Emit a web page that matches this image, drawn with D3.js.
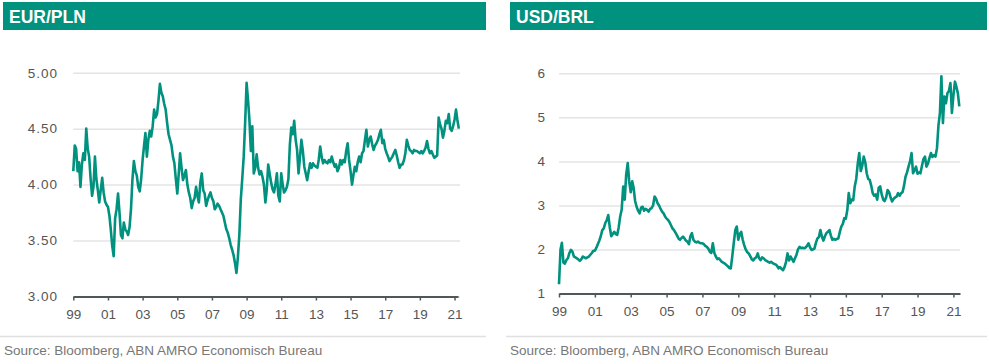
<!DOCTYPE html>
<html>
<head>
<meta charset="utf-8">
<script src="https://cdn.jsdelivr.net/npm/d3@7"></script>
<style>
  body { margin: 0; background: #fff; }
  svg { display: block; font-family: 'Liberation Sans', Arial, sans-serif; }
</style>
</head>
<body>
<svg id="mainsvg" width="989" height="364"></svg>
<script>
// monthly values, starting Jan 1999
const plnStart = '1999-01';
const plnValues = [
  4.12, 4.35, 4.32, 4.12, 4.20, 3.98, 4.18, 4.28, 4.22, 4.50, 4.32, 4.25, // 1999
  4.05, 3.90, 3.98, 4.25, 4.05, 3.95, 3.84, 3.95, 4.06, 3.93, 3.85, 3.82, // 2000
  3.80, 3.72, 3.60, 3.45, 3.36, 3.70, 3.78, 3.92, 3.75, 3.55, 3.52, 3.66, // 2001
  3.60, 3.58, 3.55, 3.62, 3.78, 4.05, 4.21, 4.12, 4.08, 3.98, 3.94, 4.05, // 2002
  4.22, 4.35, 4.46, 4.25, 4.40, 4.48, 4.43, 4.52, 4.67, 4.60, 4.63, 4.75, // 2003
  4.90, 4.82, 4.79, 4.72, 4.67, 4.55, 4.45, 4.40, 4.35, 4.25, 4.19, 4.05, // 2004
  3.92, 4.10, 4.28, 4.15, 4.04, 4.08, 4.13, 4.00, 3.93, 3.88, 3.79, 3.85, // 2005
  3.88, 3.98, 3.90, 3.84, 4.02, 4.10, 3.95, 3.92, 3.81, 3.86, 3.90, 3.93, // 2006
  3.88, 3.85, 3.78, 3.80, 3.83, 3.81, 3.78, 3.75, 3.72, 3.66, 3.60, 3.57, // 2007
  3.52, 3.46, 3.42, 3.37, 3.30, 3.21, 3.35, 3.55, 3.87, 4.05, 4.25, 4.55, // 2008
  4.91, 4.75, 4.58, 4.30, 4.52, 4.10, 4.15, 4.27, 4.15, 4.09, 4.12, 4.07, // 2009
  4.00, 3.84, 3.95, 4.18, 4.10, 4.02, 3.96, 3.93, 4.00, 4.10, 3.90, 3.85, // 2010
  4.10, 4.00, 3.93, 3.95, 3.98, 4.05, 4.35, 4.51, 4.45, 4.57, 4.40, 4.31, // 2011
  4.10, 4.25, 4.40, 4.30, 4.16, 4.10, 4.04, 4.12, 4.19, 4.15, 4.19, 4.17, // 2012
  4.16, 4.15, 4.22, 4.34, 4.25, 4.19, 4.22, 4.20, 4.19, 4.22, 4.20, 4.25, // 2013
  4.20, 4.16, 4.18, 4.12, 4.15, 4.22, 4.18, 4.22, 4.20, 4.30, 4.37, 4.22, // 2014
  4.12, 4.00, 4.08, 4.16, 4.12, 4.20, 4.25, 4.20, 4.28, 4.30, 4.40, 4.49, // 2015
  4.34, 4.40, 4.43, 4.36, 4.31, 4.35, 4.37, 4.40, 4.45, 4.49, 4.37, 4.40, // 2016
  4.32, 4.28, 4.25, 4.21, 4.23, 4.25, 4.28, 4.31, 4.26, 4.20, 4.15, 4.18, // 2017
  4.18, 4.22, 4.28, 4.40, 4.35, 4.31, 4.30, 4.28, 4.31, 4.30, 4.30, 4.29, // 2018
  4.28, 4.30, 4.28, 4.30, 4.33, 4.39, 4.32, 4.28, 4.30, 4.27, 4.24, 4.25, // 2019
  4.26, 4.60, 4.54, 4.50, 4.42, 4.48, 4.57, 4.55, 4.63, 4.50, 4.48, 4.52, // 2020
  4.58, 4.67, 4.58, 4.50                                                  // 2021
];

const brlStart = '1999-01';
const brlValues = [
  1.21, 2.00, 2.15, 1.70, 1.68, 1.76, 1.80, 1.92, 1.99, 1.95, 1.84, 1.82, // 1999
  1.80, 1.77, 1.74, 1.78, 1.84, 1.82, 1.80, 1.82, 1.84, 1.88, 1.92, 1.97, // 2000
  1.97, 2.04, 2.12, 2.20, 2.30, 2.44, 2.48, 2.60, 2.67, 2.78, 2.50, 2.30, // 2001
  2.35, 2.40, 2.35, 2.33, 2.50, 2.75, 2.90, 3.43, 3.13, 3.70, 3.96, 3.55, // 2002
  3.30, 3.55, 3.40, 3.10, 2.97, 2.88, 2.82, 2.95, 2.97, 2.88, 2.92, 2.90, // 2003
  2.86, 2.92, 2.94, 3.00, 3.20, 3.15, 3.05, 3.00, 2.92, 2.86, 2.82, 2.75, // 2004
  2.70, 2.67, 2.62, 2.55, 2.48, 2.44, 2.38, 2.32, 2.25, 2.22, 2.26, 2.29, // 2005
  2.25, 2.20, 2.18, 2.12, 2.30, 2.37, 2.22, 2.18, 2.16, 2.18, 2.15, 2.14, // 2006
  2.14, 2.12, 2.08, 2.06, 2.02, 1.95, 1.92, 2.14, 1.92, 1.84, 1.78, 1.80, // 2007
  1.76, 1.72, 1.70, 1.68, 1.65, 1.62, 1.58, 1.57, 1.85, 2.15, 2.44, 2.52, // 2008
  2.22, 2.35, 2.40, 2.22, 2.10, 2.00, 1.94, 1.91, 1.85, 1.78, 1.75, 1.80, // 2009
  1.82, 1.91, 1.80, 1.76, 1.82, 1.80, 1.76, 1.74, 1.72, 1.70, 1.72, 1.69, // 2010
  1.67, 1.66, 1.63, 1.57, 1.60, 1.56, 1.53, 1.60, 1.72, 1.91, 1.75, 1.84, // 2011
  1.78, 1.72, 1.80, 1.88, 2.00, 2.06, 2.03, 2.04, 2.03, 2.04, 2.08, 2.14, // 2012
  2.05, 1.99, 2.00, 2.02, 2.15, 2.25, 2.28, 2.44, 2.29, 2.20, 2.30, 2.37, // 2013
  2.40, 2.44, 2.32, 2.22, 2.24, 2.22, 2.24, 2.25, 2.40, 2.52, 2.58, 2.71, // 2014
  2.70, 2.90, 3.28, 3.05, 3.13, 3.12, 3.43, 3.60, 3.95, 4.19, 3.78, 3.90, // 2015
  4.11, 3.98, 3.73, 3.60, 3.58, 3.45, 3.28, 3.22, 3.25, 3.13, 3.40, 3.43, // 2016
  3.25, 3.13, 3.10, 3.18, 3.35, 3.30, 3.18, 3.09, 3.15, 3.18, 3.20, 3.28, // 2017
  3.22, 3.28, 3.30, 3.45, 3.65, 3.75, 3.88, 4.00, 4.19, 3.73, 3.80, 3.88, // 2018
  3.72, 3.75, 3.73, 3.90, 4.05, 4.11, 3.88, 3.95, 4.08, 4.19, 4.10, 4.14, // 2019
  4.11, 4.30, 4.80, 5.10, 5.93, 4.87, 5.47, 5.32, 5.55, 5.60, 5.78, 5.10, // 2020
  5.50, 5.81, 5.70, 5.55, 5.25                                            // 2021
];

const plnTicks = [3, 3.5, 4, 4.5, 5];
const brlTicks = [1, 2, 3, 4, 5, 6];
const yearTicks = ['1999', '2001', '2003', '2005', '2007', '2009', '2011', '2013', '2015', '2017', '2019', '2021'];
const source = 'Source: Bloomberg, ABN AMRO Economisch Bureau';

const teal = '#00917f';
const parseMonth = d3.timeParse('%Y-%m');
const parseYear = d3.timeParse('%Y');

const svg = d3.select('#mainsvg');

const drawPanel = p => {
  const g = svg.append('g');

  g.append('rect')
    .attr('x', p.barX0).attr('y', 2)
    .attr('width', p.barX1 - p.barX0).attr('height', 28)
    .attr('fill', teal);
  g.append('text').text(p.title)
    .attr('x', p.barX0 + 6).attr('y', 22.5)
    .attr('fill', '#fff')
    .attr('font-weight', 'bold')
    .attr('font-size', 17.5);

  const start = parseMonth(p.start);
  const data = p.values.map((v, i) => ({ date: d3.timeMonth.offset(start, i), value: v }));

  const xScale = d3.scaleTime()
    .domain([parseYear('1999'), p.xEnd])
    .range([p.left, p.right]);
  const yScale = d3.scaleLinear()
    .domain(p.yDomain)
    .range([p.bottom, p.top]);

  // gridlines + y labels
  const yAxis = d3.axisLeft(yScale)
    .tickValues(p.yTicks)
    .tickFormat(d3.format(p.yFormat))
    .tickSize(-(p.gridRight - p.left))
    .tickPadding(p.left - p.labelX);
  const yg = g.append('g')
    .attr('transform', `translate(${p.left}, 0)`)
    .call(yAxis);
  yg.select('.domain').remove();
  yg.selectAll('.tick line')
    .attr('stroke', '#e4e4e4')
    .attr('stroke-width', 1.5);
  yg.selectAll('.tick text')
    .attr('fill', '#555')
    .attr('font-size', 13.5)
    .attr('font-family', null)
    .style('letter-spacing', p.letterSpacing);

  // x axis
  const xAxis = d3.axisBottom(xScale)
    .tickValues(yearTicks.map(parseYear))
    .tickFormat(d3.timeFormat('%y'))
    .tickSizeInner(4)
    .tickSizeOuter(0)
    .tickPadding(9);
  const xg = g.append('g')
    .attr('transform', `translate(0, ${p.bottom})`)
    .call(xAxis);
  xg.select('.domain')
    .attr('stroke', '#4d5858')
    .attr('stroke-width', 2);
  xg.selectAll('.tick line')
    .attr('stroke', '#4d5858')
    .attr('stroke-width', 1.5);
  xg.selectAll('.tick text')
    .attr('fill', '#555')
    .attr('font-size', 13.5)
    .attr('font-family', null);

  const line = d3.line()
    .x(d => xScale(d.date))
    .y(d => yScale(d.value));
  g.append('path').datum(data)
    .attr('d', line)
    .attr('fill', 'none')
    .attr('stroke', teal)
    .attr('stroke-width', 2.6)
    .attr('stroke-linejoin', 'round');

  // footer
  g.append('line')
    .attr('x1', p.footX0).attr('x2', p.barX1)
    .attr('y1', 336.5).attr('y2', 336.5)
    .attr('stroke', '#e0e0e0')
    .attr('stroke-width', 1.5);
  g.append('text').text(source)
    .attr('x', p.footX0 + 4).attr('y', 355)
    .attr('fill', '#777')
    .attr('font-size', 13.5);
};

drawPanel({
  title: 'EUR/PLN', start: plnStart, values: plnValues,
  barX0: 3, barX1: 486, footX0: 0,
  left: 73.3, right: 458, gridRight: 460, top: 72.7, bottom: 296.5, labelX: 58,
  xEnd: new Date(2021, 2, 15), yDomain: [3, 5], yTicks: plnTicks, yFormat: '.2f',
  letterSpacing: '1px'
});

drawPanel({
  title: 'USD/BRL', start: brlStart, values: brlValues,
  barX0: 510, barX1: 987, footX0: 506,
  left: 559, right: 960, gridRight: 960, top: 73.3, bottom: 293.5, labelX: 545,
  xEnd: new Date(2021, 4, 15), yDomain: [1, 6], yTicks: brlTicks, yFormat: 'd',
  letterSpacing: '0px'
});
</script>
</body>
</html>
